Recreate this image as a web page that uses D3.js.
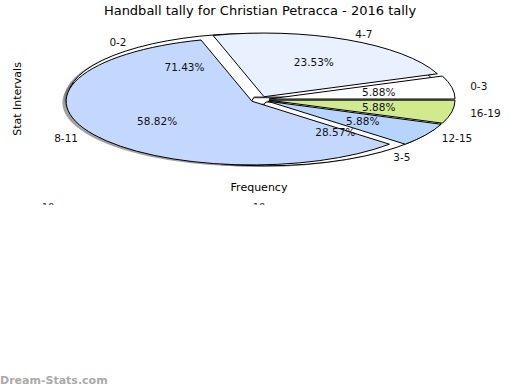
<!DOCTYPE html>
<html><head><meta charset="utf-8">
<script src="https://cdn.jsdelivr.net/npm/d3@7"></script>
<style>body{margin:0;background:#fff}svg{display:block}text{font-family:"DejaVu Sans",sans-serif}</style>
</head><body><svg id="c" width="520" height="390"></svg>
<script>
const title = "Handball tally for Christian Petracca - 2016 tally";
const categories1 = ["0-3","4-7","8-11","12-15","16-19"];
const values1 = [1,4,10,1,1];
const colors1 = ["#ffffff","#e9f0fe","#c4d8fe","#b6d4fe","#d0ea8c"];
const categories2 = ["0-2","3-5"];
const values2 = [5,2];
const colors2 = ["#ffffff","#ffffff"];
const tickLabels = ["10","10"];
const xLabel = "Frequency", yLabel = "Stat Intervals";

const svg = d3.select("#c");
const x = d3.scaleLinear().domain([-1,1]).range([259.9-186, 259.9+186]);
const y = d3.scaleLinear().domain([-1,1]).range([99.6+63.7, 99.6-63.7]);
const rx = (x(1)-x(-1))/2, ry = (y(-1)-y(1))/2;
const explode = 0.05;

const pieGen = d3.pie().sort(null).value(d=>d.v)
  .startAngle(Math.PI/2).endAngle(Math.PI/2 - 2*Math.PI);
const arc = d3.arc().innerRadius(0).outerRadius(1);

function build(cats, vals, cols){
  const data = cats.map((c,i)=>({c, v:vals[i], col:cols[i]}));
  const total = d3.sum(vals);
  return pieGen(data).map(a=>{
    const t1 = Math.PI/2 - a.startAngle, t2 = Math.PI/2 - a.endAngle;
    const mid = (t1+t2)/2;
    return {...a, mid, pct: a.data.v/total*100,
      arcD: arc({startAngle: Math.min(a.startAngle,a.endAngle), endAngle: Math.max(a.startAngle,a.endAngle)})};
  });
}
const pie1 = build(categories1, values1, colors1);
const pie2 = build(categories2, values2, colors2);

const g = svg.append("g").attr("transform", `translate(${x(0)},${y(0)}) scale(${rx},${ry})`);
function wedgeTf(d, dx=0, dy=0){
  return `translate(${explode*Math.cos(d.mid)+dx},${-explode*Math.sin(d.mid)+dy})`;
}
[pie2, pie1].forEach(p=>{
  g.selectAll(null).data(p).enter().append("path")
    .attr("d", d=>d.arcD).attr("transform", d=>wedgeTf(d,-0.02,0.02))
    .attr("fill","#555").attr("fill-opacity",0.55).attr("stroke","none");
});
[pie2, pie1].forEach(p=>{
  g.selectAll(null).data(p).enter().append("path")
    .attr("d", d=>d.arcD).attr("transform", d=>wedgeTf(d))
    .attr("fill", d=>d.data.col).attr("stroke","#000").attr("stroke-width",1)
    .attr("vector-effect","non-scaling-stroke").attr("stroke-linejoin","round");
});

const fs = 10.5;
[pie2, pie1].forEach(p=>{
  p.forEach(d=>{
    const ox = explode*Math.cos(d.mid), oy = explode*Math.sin(d.mid);
    const lx = ox + 1.1*Math.cos(d.mid), ly = oy + 1.1*Math.sin(d.mid);
    svg.append("text").attr("x", x(lx)).attr("y", y(ly)).attr("dy","0.35em")
      .attr("text-anchor", lx>0?"start":"end").attr("font-size",fs).attr("fill","#111")
      .text(d.data.c);
    const px = ox + 0.6*Math.cos(d.mid), py = oy + 0.6*Math.sin(d.mid);
    svg.append("text").attr("x", x(px)).attr("y", y(py)).attr("dy","0.35em")
      .attr("text-anchor","middle").attr("font-size",fs).attr("fill","#111")
      .text(d.pct.toFixed(2)+"%");
  });
});

svg.append("text").attr("x",260).attr("y",10).attr("dy","0.35em").attr("text-anchor","middle")
  .attr("font-size",13).attr("fill","#000").text(title);
svg.append("text").attr("x",259).attr("y",187).attr("dy","0.35em").attr("text-anchor","middle")
  .attr("font-size",11).attr("fill","#000").text(xLabel);
svg.append("text").attr("transform","translate(17,99) rotate(-90)").attr("dy","0.35em")
  .attr("text-anchor","middle").attr("font-size",11).attr("fill","#000").text(yLabel);
svg.append("defs").append("clipPath").attr("id","tc").append("rect")
  .attr("x",0).attr("y",0).attr("width",520).attr("height",205);
const tx = d3.scaleLinear().domain([0,1]).range([48,259]);
svg.append("g").attr("clip-path","url(#tc)").selectAll("text").data(tickLabels).enter().append("text")
  .attr("x",(d,i)=>tx(i)).attr("y",210.5).attr("text-anchor","middle")
  .attr("font-size",10).attr("fill","#334").text(d=>d);

svg.append("text").attr("x",0).attr("y",384).attr("font-size",11).attr("font-weight","bold")
  .attr("fill","#aaa").attr("font-family","'Open Sans',sans-serif").text("Dream-Stats.com");
</script></body></html>
